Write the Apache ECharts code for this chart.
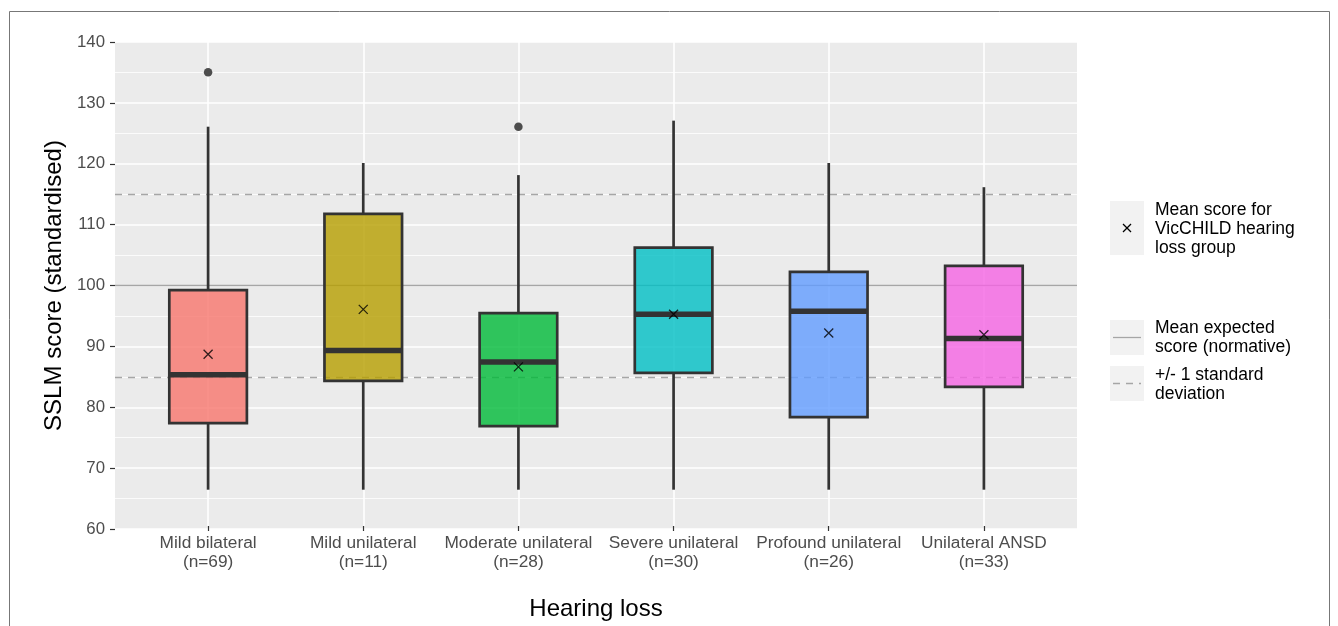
<!DOCTYPE html>
<html><head><meta charset="utf-8">
<script src="https://cdn.jsdelivr.net/npm/echarts@6/dist/echarts.min.js"></script>
<style>html,body{margin:0;padding:0;background:#fff}#c{width:1338px;height:626px}</style>
</head><body><div id="c"></div>
<script>
var categories = ['Mild bilateral\n(n=69)', 'Mild unilateral\n(n=11)', 'Moderate unilateral\n(n=28)', 'Severe unilateral\n(n=30)', 'Profound unilateral\n(n=26)', 'Unilateral ANSD\n(n=33)'];
var whiskerLow = [66, 66, 66, 66, 66, 66];
var q1 = [77, 84, 76.5, 85.3, 78, 83];
var median = [85, 89, 87.1, 95, 95.5, 91];
var q3 = [99, 111.6, 95.2, 106, 102, 103];
var whiskerHigh = [126, 120, 118, 127, 120, 116];
var means = [88.4, 95.8, 86.3, 95.0, 91.9, 91.6];
var outliers = [[0, 135], [2, 126]];
var fills = ['#F8766D', '#B79F00', '#00BA38', '#00BFC4', '#619CFF', '#F564E3'];
var normMean = 100, normLow = 85, normHigh = 115;
var yTicks = {min: 60, max: 140, interval: 10};

var boxData = categories.map(function (c, i) {
  return [i, whiskerLow[i], q1[i], median[i], q3[i], whiskerHigh[i]];
});
var meanData = means.map(function (m, i) { return [i, m]; });

var font = 'Liberation Sans, Arial, sans-serif';
var chart = echarts.init(document.getElementById('c'), null, {renderer: 'canvas'});

// ggplot-style panel: discrete axis expanded by 0.6 of a category on each side
var panelL = 115, panelR = 1077, panelT = 42, panelB = 529, W = 1338, H = 626;
var unit = (panelR - panelL) / (categories.length - 1 + 1.2);
var innerL = panelL + 0.1 * unit, innerR = panelR - 0.1 * unit;

function renderBox(params, api) {
  var i = api.value(0);
  var lo = api.coord([i, api.value(1)]);
  var b1 = api.coord([i, api.value(2)]);
  var md = api.coord([i, api.value(3)]);
  var b3 = api.coord([i, api.value(4)]);
  var hi = api.coord([i, api.value(5)]);
  var bw = api.size([1, 0])[0] * 0.5;
  var x = lo[0];
  var dark = '#333333';
  return {
    type: 'group',
    children: [
      {type: 'line', shape: {x1: x, y1: hi[1], x2: x, y2: b3[1]}, style: {stroke: dark, lineWidth: 2.7}},
      {type: 'line', shape: {x1: x, y1: b1[1], x2: x, y2: lo[1]}, style: {stroke: dark, lineWidth: 2.7}},
      {type: 'rect', shape: {x: x - bw / 2, y: b3[1], width: bw, height: b1[1] - b3[1]},
        style: {fill: fills[i], opacity: 0.8}, z2: 1},
      {type: 'rect', shape: {x: x - bw / 2, y: b3[1], width: bw, height: b1[1] - b3[1]},
        style: {fill: 'none', stroke: dark, lineWidth: 2.7}, z2: 3},
      {type: 'line', shape: {x1: x - bw / 2, y1: md[1], x2: x + bw / 2, y2: md[1]}, style: {stroke: dark, lineWidth: 5.5}, z2: 4}
    ]
  };
}

var option = {
  animation: false,
  backgroundColor: '#ffffff',
  grid: [
    {left: panelL, right: W - panelR, top: panelT, bottom: H - panelB, containLabel: false, show: true, backgroundColor: '#EBEBEB', borderWidth: 0},
    {left: innerL, right: W - innerR, top: panelT, bottom: H - panelB, containLabel: false, show: false}
  ],
  xAxis: [
    {type: 'value', gridIndex: 0, min: 0, max: 1, show: false},
    {
      type: 'category', gridIndex: 1, data: categories, boundaryGap: true,
      name: 'Hearing loss', nameLocation: 'middle', nameGap: 71,
      nameTextStyle: {fontFamily: font, fontSize: 24, color: '#000'},
      axisLine: {show: false},
      axisTick: {show: true, alignWithLabel: true, length: 5, lineStyle: {color: '#333', width: 1.2}},
      axisLabel: {interval: 0, fontFamily: font, fontSize: 17.3, color: '#4D4D4D', margin: 8, lineHeight: 19},
      splitLine: {show: true, alignWithLabel: true, lineStyle: {color: '#ffffff', width: 1.6}}
    }
  ],
  yAxis: [
    {
      type: 'value', gridIndex: 0, min: yTicks.min, max: yTicks.max, interval: yTicks.interval,
      name: 'SSLM score (standardised)', nameLocation: 'middle', nameGap: 43,
      nameTextStyle: {fontFamily: font, fontSize: 24, color: '#000'},
      axisLine: {show: false},
      axisTick: {show: true, length: 5, lineStyle: {color: '#333', width: 1.2}},
      axisLabel: {fontFamily: font, fontSize: 16.8, color: '#4D4D4D', margin: 10},
      splitLine: {show: true, lineStyle: {color: '#ffffff', width: 1.6}},
      minorTick: {show: false, splitNumber: 2},
      minorSplitLine: {show: true, lineStyle: {color: '#ffffff', width: 0.8}}
    },
    {type: 'value', gridIndex: 1, min: yTicks.min, max: yTicks.max, interval: yTicks.interval, show: false, splitLine: {show: false}}
  ],
  series: [
    {
      type: 'line', xAxisIndex: 0, yAxisIndex: 0, data: [], silent: true, z: 1,
      markLine: {
        silent: true, symbol: 'none', z: 1, label: {show: false},
        data: [
          {yAxis: normMean, lineStyle: {color: '#A6A6A6', type: 'solid', width: 1.3}},
          {yAxis: normLow, lineStyle: {color: '#A6A6A6', type: [7, 6], width: 1.3}},
          {yAxis: normHigh, lineStyle: {color: '#A6A6A6', type: [7, 6], width: 1.3}}
        ]
      }
    },
    {
      type: 'custom', xAxisIndex: 1, yAxisIndex: 1, data: boxData, renderItem: renderBox, z: 3,
      encode: {x: 0, y: [1, 2, 3, 4, 5]}, silent: true
    },
    {
      type: 'scatter', xAxisIndex: 1, yAxisIndex: 1, data: outliers, symbol: 'circle', symbolSize: 8.5, z: 4,
      itemStyle: {color: '#4D4D4D', opacity: 1}, silent: true
    },
    {
      type: 'scatter', xAxisIndex: 1, yAxisIndex: 1, data: meanData, symbol: 'path://M0,0L10,10M10,0L0,10', symbolSize: 9, z: 5,
      itemStyle: {color: 'none', borderColor: '#000', borderWidth: 1.3}, silent: true
    }
  ],
  graphic: [
    {type: 'rect', shape: {x: 9.5, y: 11.5, width: 1320, height: 640}, style: {fill: 'none', stroke: '#777', lineWidth: 1}, silent: true},
    {type: 'rect', shape: {x: 1110, y: 201, width: 34, height: 54}, style: {fill: '#F2F2F2'}},
    {type: 'line', shape: {x1: 1123, y1: 224, x2: 1131, y2: 232}, style: {stroke: '#000', lineWidth: 1.2}},
    {type: 'line', shape: {x1: 1131, y1: 224, x2: 1123, y2: 232}, style: {stroke: '#000', lineWidth: 1.2}},
    {type: 'text', x: 1155, y: 201, style: {text: 'Mean score for\nVicCHILD hearing\nloss group', fontFamily: font, fontSize: 17.5, lineHeight: 18.7, fill: '#000'}},
    {type: 'rect', shape: {x: 1110, y: 320, width: 34, height: 35}, style: {fill: '#F2F2F2'}},
    {type: 'line', shape: {x1: 1113, y1: 337.5, x2: 1141, y2: 337.5}, style: {stroke: '#A6A6A6', lineWidth: 1.3}},
    {type: 'text', x: 1155, y: 318, style: {text: 'Mean expected\nscore (normative)', fontFamily: font, fontSize: 17.5, lineHeight: 19.5, fill: '#000'}},
    {type: 'rect', shape: {x: 1110, y: 366, width: 34, height: 35}, style: {fill: '#F2F2F2'}},
    {type: 'line', shape: {x1: 1113, y1: 383.5, x2: 1141, y2: 383.5}, style: {stroke: '#A6A6A6', lineWidth: 1.3, lineDash: [7, 6]}},
    {type: 'text', x: 1155, y: 365, style: {text: '+/- 1 standard\ndeviation', fontFamily: font, fontSize: 17.5, lineHeight: 19.5, fill: '#000'}}
  ]
};
chart.setOption(option);
</script></body></html>
